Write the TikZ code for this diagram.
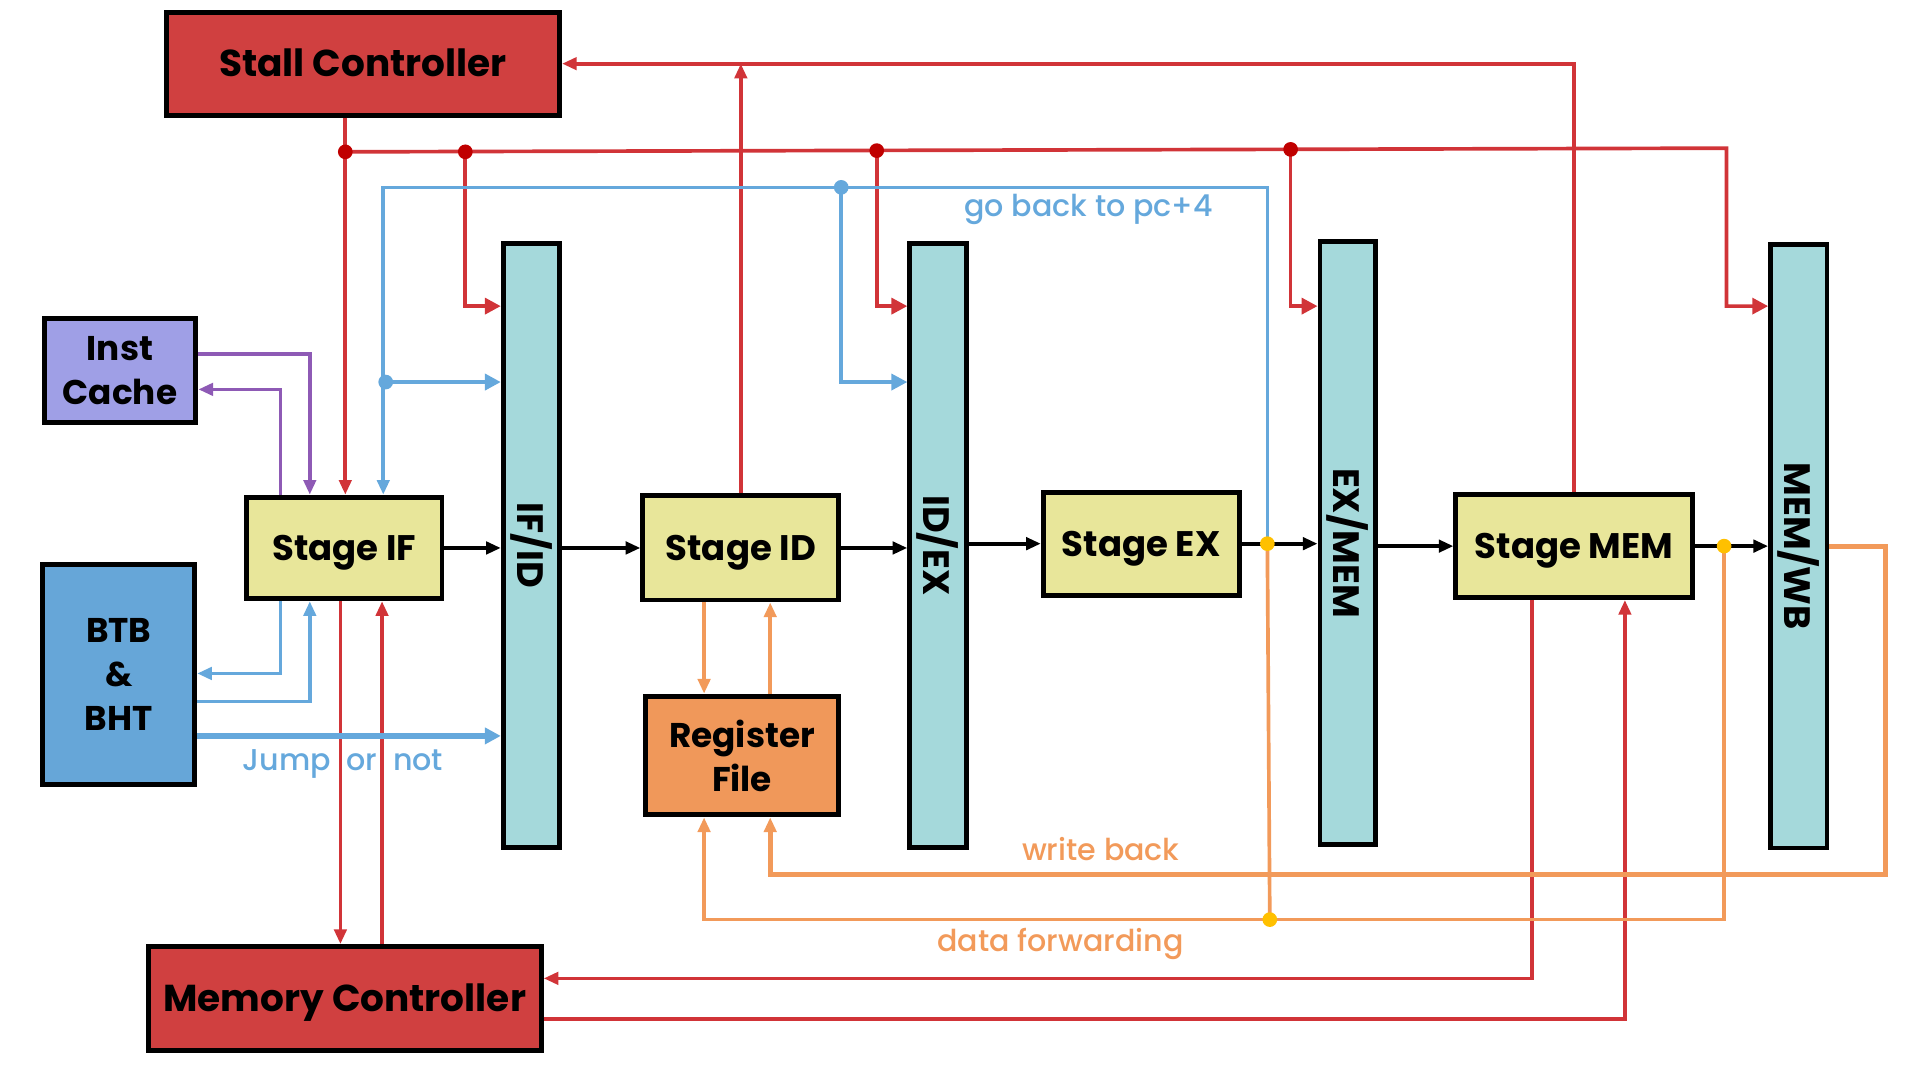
\documentclass[tikz,border=0pt]{standalone}
\usepackage{fontspec}
\setmainfont{Poppins}
\newfontfamily\lblfont{Poppins}[UprightFont={* Medium}]
\usetikzlibrary{arrows.meta}
\definecolor{redbox}{HTML}{D04040}
\definecolor{redln}{HTML}{D13438}
\definecolor{reddot}{HTML}{C00000}
\definecolor{bluln}{HTML}{65A8DC}
\definecolor{btbfill}{HTML}{66A6D8}
\definecolor{icfill}{HTML}{9F9FE6}
\definecolor{purln}{HTML}{8E5AB5}
\definecolor{stgfill}{HTML}{E8E69A}
\definecolor{barfill}{HTML}{A5D9DB}
\definecolor{rffill}{HTML}{F0985A}
\definecolor{orln}{HTML}{F29A5A}
\definecolor{yeldot}{HTML}{FFC000}
\begin{document}
\begin{tikzpicture}[x=0.5pt,y=-0.5pt,
  wh/.style 2 args={minimum width=#1*0.5pt, minimum height=#2*0.5pt},
  box/.style={draw=black, line width=2pt, inner sep=0pt, align=center, text=black},
  ctrl/.style={box, fill=redbox, font=\bfseries\fontsize{15.3}{19}\selectfont, text height=10.7pt, text depth=0pt},
  stage/.style={box, fill=stgfill, font=\bfseries\fontsize{14.5}{18}\selectfont, text height=10.2pt, text depth=0pt},
  side/.style={box, font=\bfseries\fontsize{14}{18}\selectfont},
  bar/.style={box, fill=barfill, wh={46}{493}},
  bartxt/.style={rotate=-90, font=\bfseries\fontsize{15}{18}\selectfont, inner sep=0pt},
  lbl/.style={font=\lblfont\fontsize{12.3}{15}\selectfont, inner sep=0pt},
  arr/.style={-{Triangle[length=6pt,width=5pt]}},
  barr/.style={-{Triangle[length=6.5pt,width=6.5pt]}},
  rl/.style={draw=redln, line width=1.5pt},
  bl/.style={draw=bluln, line width=1.5pt},
  pl/.style={draw=purln, line width=1.5pt},
  ol/.style={draw=orln, line width=1.5pt},
  kl/.style={draw=black, line width=1.6pt},
  dot/.style={circle, inner sep=0pt, minimum size=6pt},
]
\useasboundingbox (0,0) rectangle (1568,882);

% boxes
\node[ctrl, wh={321}{84}] (stall) at (296.5,52) {Stall Controller};
\node[ctrl, wh={321}{85}] (memc) at (281.5,815.5) {Memory Controller};
\node[side, fill=icfill, wh={124}{85}] (ic) at (98,302.5) {Inst\\Cache};
\node[side, fill=btbfill, wh={124}{180}] (btb) at (97,551) {BTB\\\&\\BHT};
\node[stage, wh={160}{83}] (ifs) at (281,447.5) {Stage IF};
\node[stage, wh={160}{85}] (ids) at (605,447.5) {Stage ID};
\node[stage, wh={160}{84}] (exs) at (932,444) {Stage EX};
\node[stage, wh={193}{84}] (mems) at (1285.5,446) {Stage MEM};
\node[side, fill=rffill, wh={158}{97}] (rf) at (606,617) {Register\\File};
\node[bar] (ifid) at (434,445.5) {};
\node[bar] (idex) at (766,445.5) {};
\node[bar, wh={45}{493}] (exmem) at (1100.5,443.5) {};
\node[bar] (memwb) at (1469,446) {};
\node[bartxt] (ifidt) at (ifid) {IF/ID};
\node[bartxt] (idext) at (idex) {ID/EX};
\node[bartxt] (exmemt) at (exmem) {EX/MEM};
\node[bartxt] (memwbt) at (memwb) {MEM/WB};

% helper coordinates
\coordinate (rA) at (282,124);
\coordinate (rB) at (380,124);
\coordinate (rC) at (716,123);
\coordinate (rD) at (1054,122);
\coordinate (rE) at (1410,121);
\coordinate (ystall) at (0,250);
\coordinate (xifd) at (278,0);
\coordinate (xifu) at (312,0);
\coordinate (mm1) at (1251,799);
\coordinate (mm2) at (1327,832);
\coordinate (bL) at (313,153);
\coordinate (bM) at (687,153);
\coordinate (bR) at (1035,153);
\coordinate (bD) at (315,312);
\coordinate (p1) at (253,289);
\coordinate (p2) at (229,318);
\coordinate (b1) at (229,550);
\coordinate (b2) at (253,573);
\coordinate (b3) at (0,601);
\coordinate (yEX) at (1035,444);
\coordinate (yMEM) at (1408,446);
\coordinate (yF) at (1037,751);
\coordinate (o1) at (575,0);
\coordinate (o2) at (629,0);
\coordinate (wb1) at (1540,446);
\coordinate (wb2) at (1540,714);

% red stall lines
\draw[rl,arr] (stall.south -| rA) -- (ifs.north -| rA);
\draw[rl,barr] (rA) -- (rE) |- (memwb.west |- ystall);
\draw[rl,barr] (rB) |- (ifid.west |- ystall);
\draw[rl,barr] (rC) |- (idex.west |- ystall);
\draw[rl,barr] (rD) |- (exmem.west |- ystall);
\draw[rl,arr] (ids.north) -- (ids.north |- stall.east);
\draw[rl,arr] (mems.north) |- (stall.east);
% red memory lines
\draw[rl,arr] (ifs.south -| xifd) -- (memc.north -| xifd);
\draw[rl,arr] (memc.north -| xifu) -- (ifs.south -| xifu);
\draw[rl,arr] (mems.south -| mm1) |- (memc.east |- mm1);
\draw[rl,arr] (memc.east |- mm2) -| (mems.south -| mm2);

% blue
\draw[bl,arr] (yEX) -- (bR) -- (bL) -- (ifs.north -| bL);
\draw[bl,barr,line width=2pt] (bD) -- (ifid.west |- bD);
\draw[bl,barr] (bM) |- (idex.west |- bD);
\draw[bl,arr] (ifs.south -| b1) |- (btb.east |- b1);
\draw[bl,arr] (btb.east |- b2) -| (ifs.south -| b2);
\draw[bl,barr,line width=2.2pt] (btb.east |- b3) -- (ifid.west |- b3);

% purple
\draw[pl,arr] (ic.east |- p1) -| (ifs.north -| p1);
\draw[pl,arr] (ifs.north -| p2) |- (ic.east |- p2);

% black pipeline
\draw[kl,arr] (ifs.east) -- (ifid.west |- ifs.east);
\draw[kl,arr] (ifid.east |- ids.west) -- (ids.west);
\draw[kl,arr] (ids.east) -- (idex.west |- ids.east);
\draw[kl,arr] (idex.east |- exs.west) -- (exs.west);
\draw[kl,arr] (exs.east) -- (exmem.west |- exs.east);
\draw[kl,arr] (exmem.east |- mems.west) -- (mems.west);
\draw[kl,arr] (mems.east) -- (memwb.west |- mems.east);

% orange
\draw[ol,arr] (ids.south -| o1) -- (rf.north -| o1);
\draw[ol,arr] (rf.north -| o2) -- (ids.south -| o2);
\draw[ol,arr,line width=2pt] (memwb.east |- wb1) -- (wb1) -- (wb2) -| (rf.south -| o2);
\draw[ol] (yEX) -- (yF);
\draw[ol,arr] (yMEM) |- (yF) -| (rf.south -| o1);

% dots
\node[dot, fill=reddot] (dA) at (rA) {};
\node[dot, fill=reddot] (dB) at (rB) {};
\node[dot, fill=reddot] (dC) at (rC) {};
\node[dot, fill=reddot] (dD) at (rD) {};
\node[dot, fill=bluln] (dM) at (bM) {};
\node[dot, fill=bluln] (dL) at (bD) {};
\node[dot, fill=yeldot] (dY1) at (yEX) {};
\node[dot, fill=yeldot] (dY2) at (yMEM) {};
\node[dot, fill=yeldot] (dY3) at (yF) {};

% labels
\node[lbl, text=bluln] (gob) at (889,171) {go back to pc+4};
\node[lbl, text=bluln] (jmp) at (280,624) {Jump~~or~~not};
\node[lbl, text=orln] (wbl) at (899,693) {write back};
\node[lbl, text=orln] (dfl) at (866,771) {data forwarding};
\end{tikzpicture}
\end{document}
